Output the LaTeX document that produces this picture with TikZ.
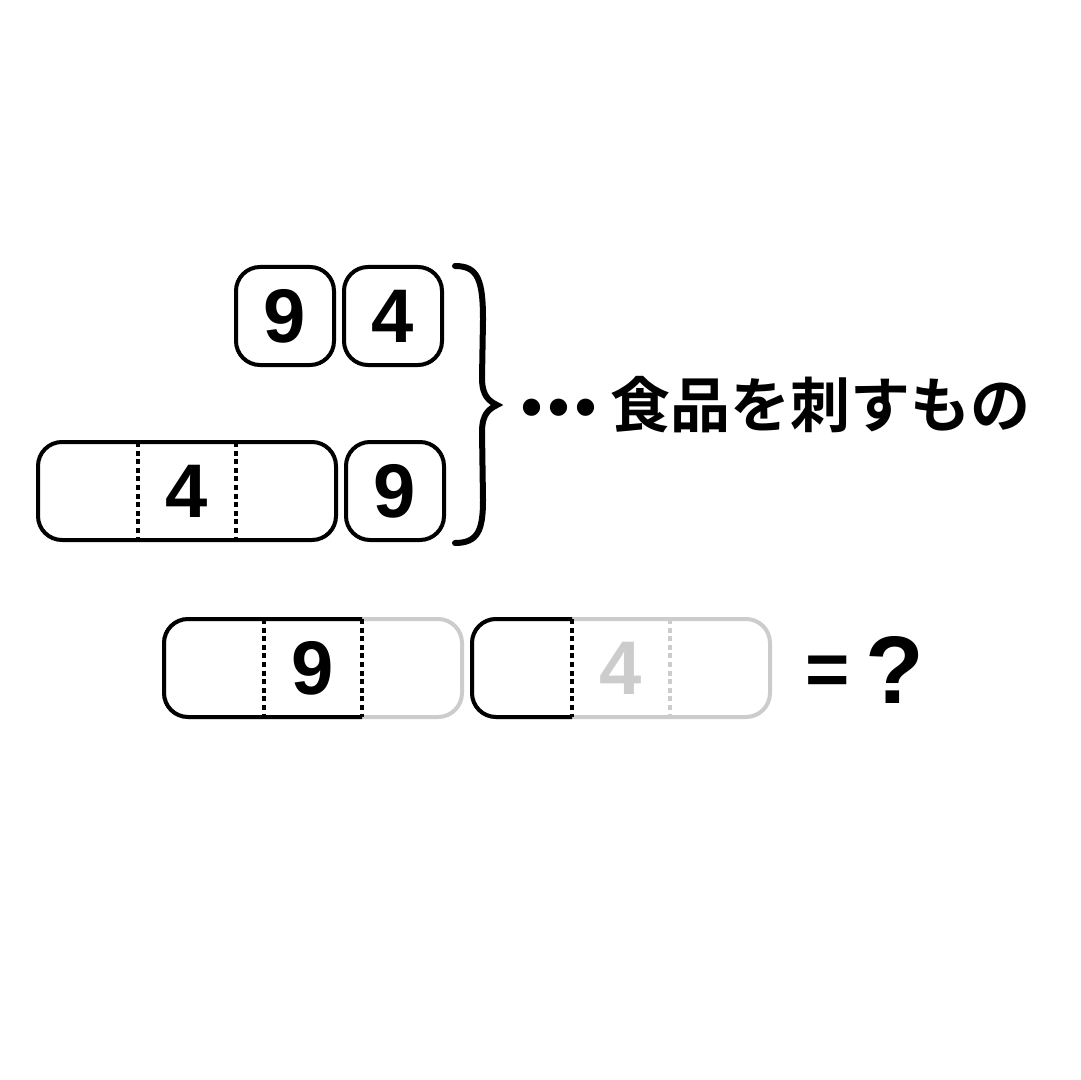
\documentclass[tikz,border=0pt]{standalone}
\usepackage{fontspec}
\setmainfont{Liberation Sans}
\newfontfamily\jpfont[BoldFont={Noto Sans CJK JP Bold}]{Noto Sans CJK JP}
\usepackage{xcolor}
\usetikzlibrary{positioning}
\definecolor{fadegray}{HTML}{CCCCCC}
\tikzset{
  cell/.style={draw, rounded corners=12pt, line width=2pt, minimum width=49pt,
    minimum height=49pt, outer sep=0pt, inner sep=0pt,
    font=\fontsize{38}{38}\selectfont\bfseries},
  longcell/.style={cell, minimum width=149pt},
  divider/.style={line width=2pt, dash pattern=on 2.5pt off 1.8pt},
  faded/.style={draw=fadegray, text=fadegray}
}

\begin{document}
\begin{tikzpicture}[x=0.5pt, y=-0.5pt]
    \fill[white] (0,0) rectangle (1080,1080);

    \node[cell] at (285,316) (n9){9};
    \node[cell, right=5pt of n9] (n4){4};

    \node[cell] at (395,491) (m9){9};
    \node[longcell, left=5pt of m9] (l4){4};
    \draw[divider] ([xshift=50pt]l4.north west) -- ([xshift=50pt]l4.south west);
    \draw[divider] ([xshift=-50pt]l4.north east) -- ([xshift=-50pt]l4.south east);

    % brace
    \coordinate (tip) at (497,405);
    \draw[line width=3pt, line cap=round] (455,266) .. controls (478,266) and (483,280) .. (483,320)
      -- (482,378) .. controls (482,396) and (489,401) .. (tip)
      .. controls (489,409) and (482,414) .. (482,432) -- (483,500)
      .. controls (483,530) and (478,543) .. (455,543);
    \node[anchor=west, inner sep=0pt, font=\jpfont\bfseries\fontsize{30}{30}\selectfont] at ([xshift=12pt]tip) (txt)
      {{\fontspec{Liberation Sans}\fontsize{30}{30}\selectfont •\kern3pt•\kern3pt•}\hspace{7pt}食品を刺すもの};

    \node[longcell, faded, text=black] at (313,668) (q9){9};
    \draw[line width=2pt, rounded corners=12pt] ([xshift=-50pt]q9.north east) -- (q9.north west)
      -- (q9.south west) -- ([xshift=-50pt]q9.south east);
    \draw[divider] ([xshift=50pt]q9.north west) -- ([xshift=50pt]q9.south west);
    \draw[divider] ([xshift=-50pt]q9.north east) -- ([xshift=-50pt]q9.south east);

    \node[longcell, faded, right=5pt of q9] (q4){4};
    \draw[line width=2pt, rounded corners=12pt] ([xshift=50pt]q4.north west) -- (q4.north west)
      -- (q4.south west) -- ([xshift=50pt]q4.south west);
    \draw[divider] ([xshift=50pt]q4.north west) -- ([xshift=50pt]q4.south west);
    \draw[divider, fadegray] ([xshift=-50pt]q4.north east) -- ([xshift=-50pt]q4.south east);

    \node[anchor=base west, inner sep=0pt, font=\bfseries] at (805,703) (eq)
      {\raisebox{4pt}{\fontsize{38}{38}\selectfont =}\hspace{8pt}{\fontsize{48}{48}\selectfont ?}};
\end{tikzpicture}
\end{document}
